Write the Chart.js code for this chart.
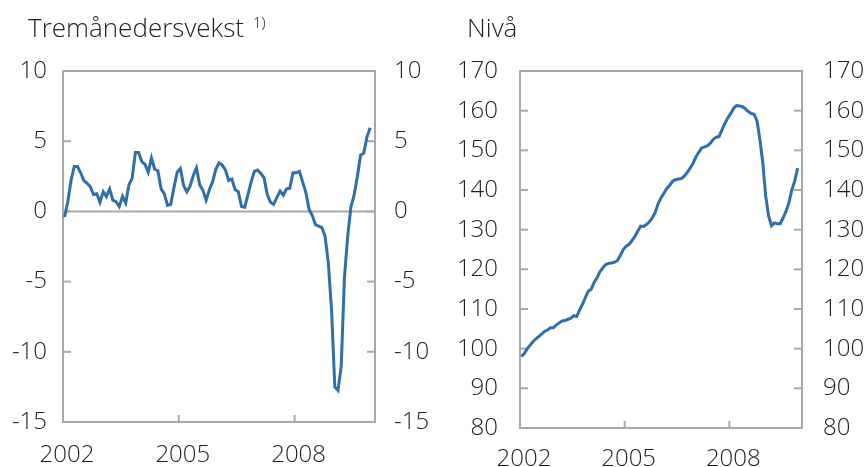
<!DOCTYPE html>
<html>
<head>
<meta charset="utf-8">
<script src="https://cdn.jsdelivr.net/npm/chart.js@4.4.1/dist/chart.umd.min.js"></script>
<style>
  body { margin: 0; background: #fff; }
  #wrap { position: relative; width: 865px; height: 467px; }
  canvas { position: absolute; top: 0; }
  #growthChart { left: 0; }
  #levelChart { left: 432px; }
</style>
</head>
<body>
<div id="wrap">
  <canvas id="growthChart" width="432" height="467"></canvas>
  <canvas id="levelChart" width="433" height="467"></canvas>
</div>
<script>
// monthly data, Jan 2002 - Dec 2009
const startYear = 2002;
const tickYears = [2002, 2005, 2008];

// three-month growth, per cent
const growth = [
  -0.4, 0.7, 2.2, 3.2, 3.2, 2.75, 2.2, 2.0, 1.75, 1.2,
  1.25, 0.65, 1.4, 1.05, 1.6, 0.8, 0.7, 0.35, 1.07, 0.6,
  1.9, 2.35, 4.2, 4.2, 3.55, 3.35, 2.8, 3.8, 3.0, 2.9,
  1.6, 1.25, 0.43, 0.5, 1.7, 2.8, 3.05, 1.85, 1.4, 1.8,
  2.55, 3.1, 1.9, 1.5, 0.8, 1.55, 2.1, 3.0, 3.45, 3.3,
  2.95, 2.2, 2.3, 1.55, 1.4, 0.35, 0.3, 1.2, 2.1, 2.85,
  2.95, 2.7, 2.4, 1.2, 0.65, 0.5, 1.0, 1.45, 1.15, 1.6,
  1.65, 2.75, 2.75, 2.85, 2.1, 1.35, 0.15, -0.3, -0.95, -1.05,
  -1.15, -1.8, -3.7, -7.05, -12.5, -12.75, -11.0, -4.7, -1.8, 0.3,
  1.15, 2.45, 4.0, 4.15, 5.3, 5.95
];

// index level
const level = [
  98.0, 98.8, 100.0, 100.9, 101.8, 102.5, 103.1, 103.7, 104.4, 104.7,
  105.3, 105.3, 106.0, 106.5, 107.0, 107.1, 107.4, 107.7, 108.3, 108.1,
  109.7, 111.2, 112.9, 114.5, 115.0, 116.7, 117.9, 119.4, 120.4, 121.2,
  121.5, 121.6, 121.8, 122.2, 123.5, 125.0, 125.8, 126.3, 127.2, 128.3,
  129.6, 130.9, 130.8, 131.3, 132.0, 133.0, 134.3, 136.5, 138.0, 139.2,
  140.4, 141.2, 142.2, 142.6, 142.8, 142.9, 143.5, 144.4, 145.5, 146.7,
  148.3, 149.5, 150.6, 150.9, 151.2, 151.8, 152.8, 153.3, 153.5, 155.2,
  156.8, 158.2, 159.3, 160.6, 161.3, 161.2, 161.0, 160.5, 159.8, 159.3,
  159.1, 157.5, 152.8, 147.0, 138.5, 133.5, 131.0, 131.7, 131.5, 131.5,
  133.0, 134.6, 136.8, 140.0, 142.3, 145.5
];

const lineBlue = "#2f6ea7";
const axisGrey = "#a8a8a8";
const textColor = "#1e1e1e";
const fontFamily = "'Open Sans', 'Liberation Sans', sans-serif";

// frame, inward ticks, zero line and panel title
const framePlugin = {
  id: "frame",
  beforeDatasetsDraw(chart, args, opts) {
    const { ctx, chartArea: a, scales } = chart;
    ctx.save();
    ctx.strokeStyle = axisGrey;
    ctx.lineWidth = 2;

    const seg = (x1, y1, x2, y2) => {
      ctx.beginPath();
      ctx.moveTo(x1, y1);
      ctx.lineTo(x2, y2);
      ctx.stroke();
    };

    if (opts.zero) {
      const y0 = scales.y.getPixelForValue(0);
      seg(a.left, y0, a.right, y0);
    }

    scales.y.ticks.forEach((t) => {
      const py = scales.y.getPixelForValue(t.value);
      seg(a.left, py, a.left + 8, py);
      seg(a.right - 8, py, a.right, py);
    });

    scales.x.ticks.forEach((t) => {
      const px = scales.x.getPixelForValue(t.value);
      seg(px, a.bottom, px, a.bottom - 7);
    });

    ctx.strokeRect(a.left, a.top, a.right - a.left, a.bottom - a.top);
    ctx.restore();
  },
  afterDraw(chart, args, opts) {
    const ctx = chart.ctx;
    ctx.save();
    ctx.fillStyle = textColor;
    ctx.textBaseline = "alphabetic";
    ctx.font = "300 26px " + fontFamily;
    ctx.fillText(opts.title, opts.titleX, 37);
    if (opts.sup) {
      const w = ctx.measureText(opts.title).width;
      ctx.font = "300 15px " + fontFamily;
      ctx.fillText(opts.sup, opts.titleX + w + 9, 28);
    }
    ctx.restore();
  },
};

function makePanel(canvasId, values, cfg) {
  const ctx = document.getElementById(canvasId);
  if (!ctx) return;

  // points sit mid-month
  const points = values.map((v, i) => ({ x: i + 0.5, y: v }));
  const tickFont = { family: fontFamily, size: 24, weight: "300" };

  const yCommon = {
    type: "linear",
    min: cfg.yMin,
    max: cfg.yMax,
    grid: { display: false, drawTicks: false },
    border: { display: false },
    ticks: { stepSize: cfg.yStep, color: textColor, font: tickFont },
  };

  return new Chart(ctx, {
    type: "line",
    data: {
      datasets: [
        {
          data: points,
          borderColor: lineBlue,
          borderWidth: 3,
          pointRadius: 0,
          tension: 0,
          yAxisID: "y",
        },
      ],
    },
    options: {
      responsive: false,
      animation: false,
      layout: { padding: { top: 71, left: 0, right: 0, bottom: 0 } },
      plugins: {
        legend: { display: false },
        tooltip: { enabled: false },
        frame: {
          title: cfg.title,
          sup: cfg.sup,
          titleX: cfg.titleX,
          zero: cfg.zero,
        },
      },
      scales: {
        x: {
          type: "linear",
          min: 0,
          max: 97,
          grid: { display: false, drawTicks: false },
          border: { display: false },
          afterBuildTicks: (scale) => {
            scale.ticks = tickYears.map((yr) => ({ value: (yr - startYear) * 12 }));
          },
          afterFit: (scale) => {
            scale.height = cfg.bottomH;
          },
          ticks: {
            color: textColor,
            font: tickFont,
            padding: cfg.xPad,
            labelOffset: 4,
            maxRotation: 0,
            autoSkip: false,
            callback: (v) => String(startYear + v / 12),
          },
        },
        y: {
          ...yCommon,
          position: "left",
          afterFit: (scale) => {
            scale.width = cfg.leftW;
          },
          ticks: { ...yCommon.ticks, padding: cfg.leftPad },
        },
        y2: {
          ...yCommon,
          position: "right",
          afterFit: (scale) => {
            scale.width = cfg.rightW;
          },
          ticks: { ...yCommon.ticks, padding: cfg.rightPad },
        },
      },
    },
    plugins: [framePlugin],
  });
}

makePanel("growthChart", growth, {
  yMin: -15, yMax: 10, yStep: 5,
  leftW: 63, rightW: 57, bottomH: 45,
  leftPad: 16, rightPad: 19, xPad: 19,
  title: "Tremånedersvekst", sup: "1)", titleX: 28, zero: true,
});

makePanel("levelChart", level, {
  yMin: 80, yMax: 170, yStep: 10,
  leftW: 88, rightW: 63, bottomH: 39,
  leftPad: 22, rightPad: 21, xPad: 17,
  title: "Nivå", sup: "", titleX: 35, zero: false,
});
</script>
</body>
</html>
